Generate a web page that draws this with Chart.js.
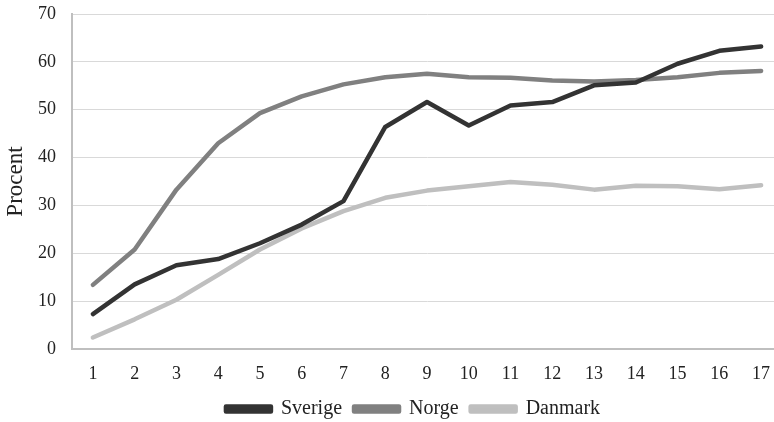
<!DOCTYPE html>
<html>
<head>
<meta charset="utf-8">
<script src="https://cdn.jsdelivr.net/npm/chart.js@4/dist/chart.umd.min.js"></script>
<style>
  html, body { margin: 0; padding: 0; background: #fff; overflow: hidden; }
  #wrap { width: 774px; height: 422px; overflow: hidden; }
  #box { width: 826px; height: 422px; }
</style>
</head>
<body>
<div id="wrap"><div id="box"><canvas id="lineChart"></canvas></div></div>
<script>
const labels = ["1", "2", "3", "4", "5", "6", "7", "8", "9", "10", "11", "12", "13", "14", "15", "16", "17"];
const sverige = [7.3, 13.5, 17.5, 18.8, 22.1, 26.0, 30.9, 46.4, 51.6, 46.7, 50.9, 51.6, 55.1, 55.7, 59.6, 62.3, 63.2];
const norge = [13.4, 20.8, 33.3, 43.0, 49.3, 52.8, 55.3, 56.8, 57.5, 56.8, 56.7, 56.1, 55.9, 56.2, 56.8, 57.7, 58.1];
const danmark = [2.4, 6.2, 10.3, 15.5, 20.8, 25.2, 28.8, 31.6, 33.1, 34.0, 34.9, 34.3, 33.3, 34.1, 34.0, 33.4, 34.2];

const serif = "'Liberation Serif', 'DejaVu Serif', serif";

function series(label, data, color) {
    return {
        label: label,
        data: data,
        borderColor: color,
        backgroundColor: color,
        borderWidth: 4.5,
        pointRadius: 0,
        tension: 0,
        borderJoinStyle: 'round',
        borderCapStyle: 'round',
        fill: false
    };
}

let ctx = document.getElementById("lineChart");
let myLine = new Chart(ctx, {
    type: 'line',
    data: {
        labels: labels,
        datasets: [
            series("Sverige", sverige, "#333333"),
            series("Norge", norge, "#808080"),
            series("Danmark", danmark, "#bfbfbf")
        ]
    },
    options: {
        responsive: true,
        maintainAspectRatio: false,
        animation: false,
        layout: { padding: { top: 14, right: 0, bottom: -7, left: 0 } },
        plugins: {
            legend: {
                position: 'bottom',
                labels: {
                    boxWidth: 45,
                    boxHeight: 5,
                    padding: 12,
                    color: '#222',
                    font: { family: serif, size: 20 }
                }
            },
            tooltip: { enabled: false }
        },
        scales: {
            x: {
                offset: true,
                grid: { display: false, drawTicks: false },
                border: { color: '#bfbfbf', width: 2 },
                ticks: { color: '#222', font: { family: serif, size: 18 }, padding: 14, maxRotation: 0 },
                afterFit: scale => {
                    scale.height = 38;
                    scale.paddingLeft = 0;
                    scale.paddingRight = 44;
                }
            },
            y: {
                min: 0,
                max: 70,
                grid: { color: '#d9d9d9', drawTicks: false, lineWidth: 1 },
                border: { color: '#bfbfbf', width: 2 },
                ticks: { stepSize: 10, color: '#222', font: { family: serif, size: 18 }, padding: 16 },
                title: { display: true, text: 'Procent', color: '#222', font: { family: serif, size: 23 }, padding: { top: 2, bottom: 0 } },
                afterFit: scale => {
                    scale.width = 72;
                    scale.paddingTop = 0;
                    scale.paddingBottom = 0;
                }
            }
        }
    }
});
</script>
</body>
</html>
